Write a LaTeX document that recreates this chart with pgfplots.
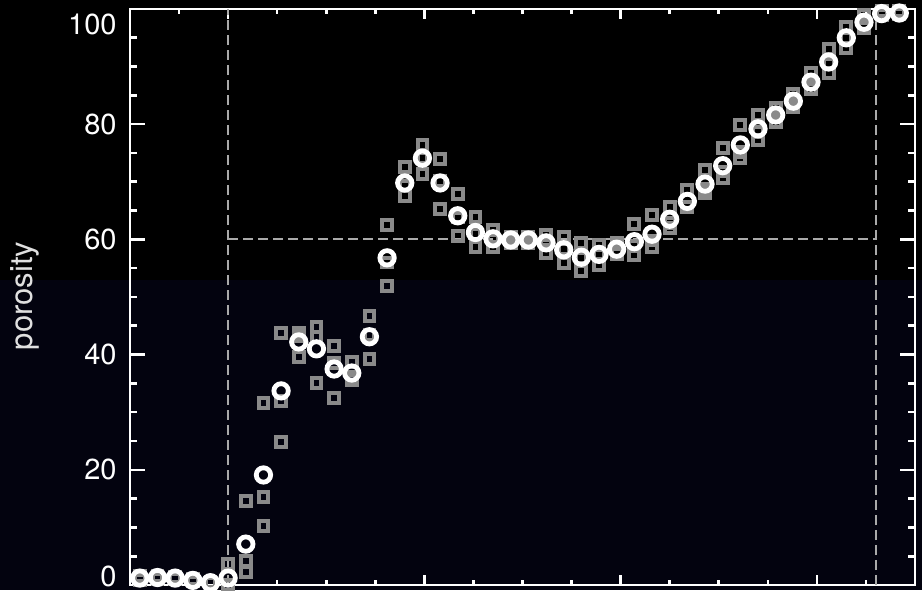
\documentclass[border=0pt]{standalone}
\usepackage{pgfplots}
\usepackage{pgfplotstable}
\pgfplotsset{compat=1.18}
\usepackage{fontspec}
\setmainfont{TeX Gyre Heros}
\definecolor{navybg}{RGB}{3,3,15}
\definecolor{sqgray}{RGB}{138,138,138}
\definecolor{dashgray}{RGB}{170,170,170}

\pgfplotstableread{
x    m     s1    s2    s3
0.55 1.2   1.5   1.2   0.8
0.64 1.3   1.5   1.3   1.0
0.73 1.2   1.4   1.2   1.0
0.82 0.8   1.0   0.8   0.6
0.91 0.4   0.5   0.4   0.3
1.00 1.2   3.6   0.0   0.0
1.09 7.1   14.6  4.2   2.3
1.18 19.1  31.6  15.3  10.2
1.27 33.7  43.8  32.0  24.8
1.36 42.2  43.8  39.6  43.2
1.45 41.0  44.8  43.1  35.1
1.54 37.5  41.5  32.5  38.5
1.63 36.8  38.7  36.1  35.6
1.72 43.1  46.7  39.2  43.4
1.81 56.8  62.5  51.9  56.0
1.90 69.8  72.6  67.5  69.3
1.99 74.1  76.4  71.4  74.2
2.08 69.8  74.0  65.3  70.1
2.17 64.1  67.9  60.6  63.8
2.26 61.2  63.9  58.7  60.9
2.35 60.1  61.6  58.7  60.0
2.44 59.9  60.5  59.3  59.9
2.53 59.9  60.4  59.4  59.9
2.62 59.4  60.8  57.6  59.8
2.71 58.2  60.4  55.9  58.3
2.80 56.9  59.4  54.5  56.8
2.89 57.4  59.0  55.6  57.5
2.98 58.3  59.4  57.5  58.0
3.07 59.6  62.7  57.3  58.8
3.16 60.9  64.2  58.7  59.8
3.25 63.5  65.6  62.0  62.9
3.34 66.6  68.6  65.6  65.6
3.43 69.6  72.0  68.1  68.7
3.52 72.8  75.9  70.7  71.8
3.61 76.4  79.9  74.1  75.2
3.70 79.2  81.6  77.3  78.7
3.79 81.6  82.8  80.4  81.6
3.88 84.0  85.3  82.9  83.8
3.97 87.3  88.9  86.1  86.9
4.06 90.8  93.1  88.9  90.4
4.15 95.0  96.9  93.2  94.9
4.24 97.7  99.0  96.7  97.4
4.33 99.2  99.6  99.0  99.0
4.42 99.3  99.6  99.2  99.1
}\data

\begin{document}
\begin{tikzpicture}
\path[use as bounding box] (-65pt,-2.5pt) rectangle (396pt,292.5pt);
\fill[black] (-65pt,-2.5pt) rectangle (396pt,292.5pt);
\fill[navybg] (-65pt,-2.5pt) rectangle (396pt,152.5pt);
\begin{axis}[
  scale only axis, width=392.5pt, height=288pt,
  xmin=0.5, xmax=4.5, ymin=0, ymax=100,
  clip=false,
  axis line style={white, line width=1.4pt},
  tick style={white, line width=1.3pt},
  tick align=inside,
  xtick={1,2,3,4},
  minor xtick={0.75,1.25,1.5,1.75,2.25,2.5,2.75,3.25,3.5,3.75,4.25},
  xticklabels={},
  ytick={0,20,40,60,80,100},
  minor ytick={5,10,15,25,30,35,45,50,55,65,70,75,85,90,95},
  yticklabels={\raisebox{4.5pt}[\height][\depth]{0},20,40,60,80,\raisebox{-7.5pt}[\height][\depth]{100}},
  yticklabel style={font=\fontsize{14.5}{14.5}\selectfont, text=white, inner sep=0pt, xshift=-6.5pt},
  major tick length=7.5pt, minor tick length=3.5pt,
  xtick style={/pgfplots/major tick length=5pt, /pgfplots/minor tick length=2.5pt},
]
\addplot[dashgray, line width=1pt, dash pattern=on 5pt off 2.5pt] coordinates {(1,0) (1,100)};
\addplot[dashgray, line width=1pt, dash pattern=on 5pt off 2.5pt] coordinates {(4.3,0) (4.3,100)};
\addplot[dashgray, line width=1pt, dash pattern=on 5pt off 2.5pt] coordinates {(1,60) (4.3,60)};
\addplot[only marks, mark=square, mark size=2.45pt, mark options={draw=sqgray, line width=2pt}] table[x=x, y=s1] {\data};
\addplot[only marks, mark=square, mark size=2.45pt, mark options={draw=sqgray, line width=2pt}] table[x=x, y=s2] {\data};
\addplot[only marks, mark=square, mark size=2.45pt, mark options={draw=sqgray, line width=2pt}] table[x=x, y=s3] {\data};
\addplot[only marks, mark=o, mark size=3.6pt, mark options={draw=white, line width=2.4pt}] table[x=x, y=m] {\data};
\end{axis}
\node[rotate=90, text=white!88!black, font=\fontsize{15.5}{15.5}\selectfont] at (-52.5pt,144.5pt) {porosity};
\end{tikzpicture}
\end{document}
